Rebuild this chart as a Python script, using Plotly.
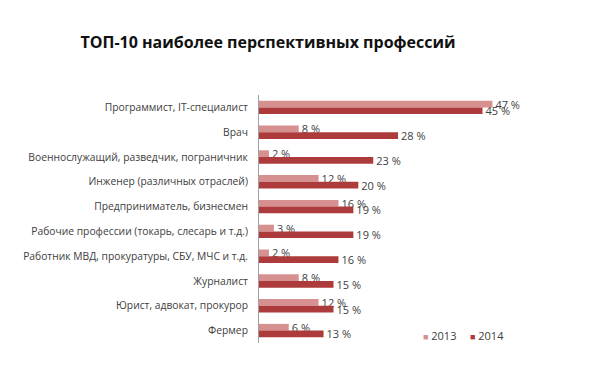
import plotly.graph_objects as go

categories = [
    "Программист, IT-специалист",
    "Врач",
    "Военнослужащий, разведчик, пограничник",
    "Инженер (различных отраслей)",
    "Предприниматель, бизнесмен",
    "Рабочие профессии (токарь, слесарь и т.д.)",
    "Работник МВД, прокуратуры, СБУ, МЧС и т.д.",
    "Журналист",
    "Юрист, адвокат, прокурор",
    "Фермер",
]
values_2013 = [47, 8, 2, 12, 16, 3, 2, 8, 12, 6]
values_2014 = [45, 28, 23, 20, 19, 19, 16, 15, 15, 13]
series_names = ["2013", "2014"]
colors = ["#D79090", "#AE3B3C"]

fig = go.Figure()
for name, vals, col in zip(series_names, [values_2013, values_2014], colors):
    fig.add_trace(go.Bar(
        y=categories, x=vals, name=name, orientation="h",
        marker=dict(color=col, line=dict(width=0)),
        text=[f"{v} %" for v in vals], textposition="outside",
        constraintext="none",
        textfont=dict(size=11, color="#404040", family="Open Sans"),
        cliponaxis=False, showlegend=False,
    ))
# legend entries: coloured square glyph next to the label, symbol itself hidden
legend_ids = ["legend", "legend2"]
for name, col, lg in zip(series_names, colors, legend_ids):
    fig.add_trace(go.Scatter(
        x=[None], y=[None], mode="markers",
        name=f"<span style='color:{col};font-size:9px'>■</span> {name}",
        marker=dict(symbol="square", size=1, color="rgba(0,0,0,0)"),
        showlegend=True, legend=lg,
    ))

legend_common = dict(orientation="h", y=(343 - 336) / 248,
                      xanchor="left", yanchor="middle",
                      font=dict(size=11, color="#404040", family="Open Sans"),
                      itemwidth=30, bgcolor="rgba(0,0,0,0)")

fig.update_layout(
    width=610, height=369,
    margin=dict(l=259, r=53, t=95, b=26),
    paper_bgcolor="white", plot_bgcolor="white",
    barmode="group", bargap=0.46, bargroupgap=0,
    title=dict(text="<b>ТОП-10 наиболее перспективных профессий</b>",
               x=268 / 610, xanchor="center", y=1 - 42 / 369, yanchor="middle",
               font=dict(size=16, color="#111111", family="Open Sans")),
    xaxis=dict(range=[0, 60], visible=False, showgrid=False, zeroline=False),
    yaxis=dict(autorange="reversed", showline=True, linecolor="#A0A0A0", linewidth=1,
               ticks="", tickfont=dict(size=10.3, color="#404040", family="Open Sans"),
               ticklabelstandoff=8, showgrid=False),
    legend=dict(x=(383 - 259) / 298, **legend_common),
    legend2=dict(x=(430 - 259) / 298, **legend_common),
    showlegend=True,
)

fig.write_html("out.html", config={"displayModeBar": False},
               post_script="document.body.style.margin='0';")
